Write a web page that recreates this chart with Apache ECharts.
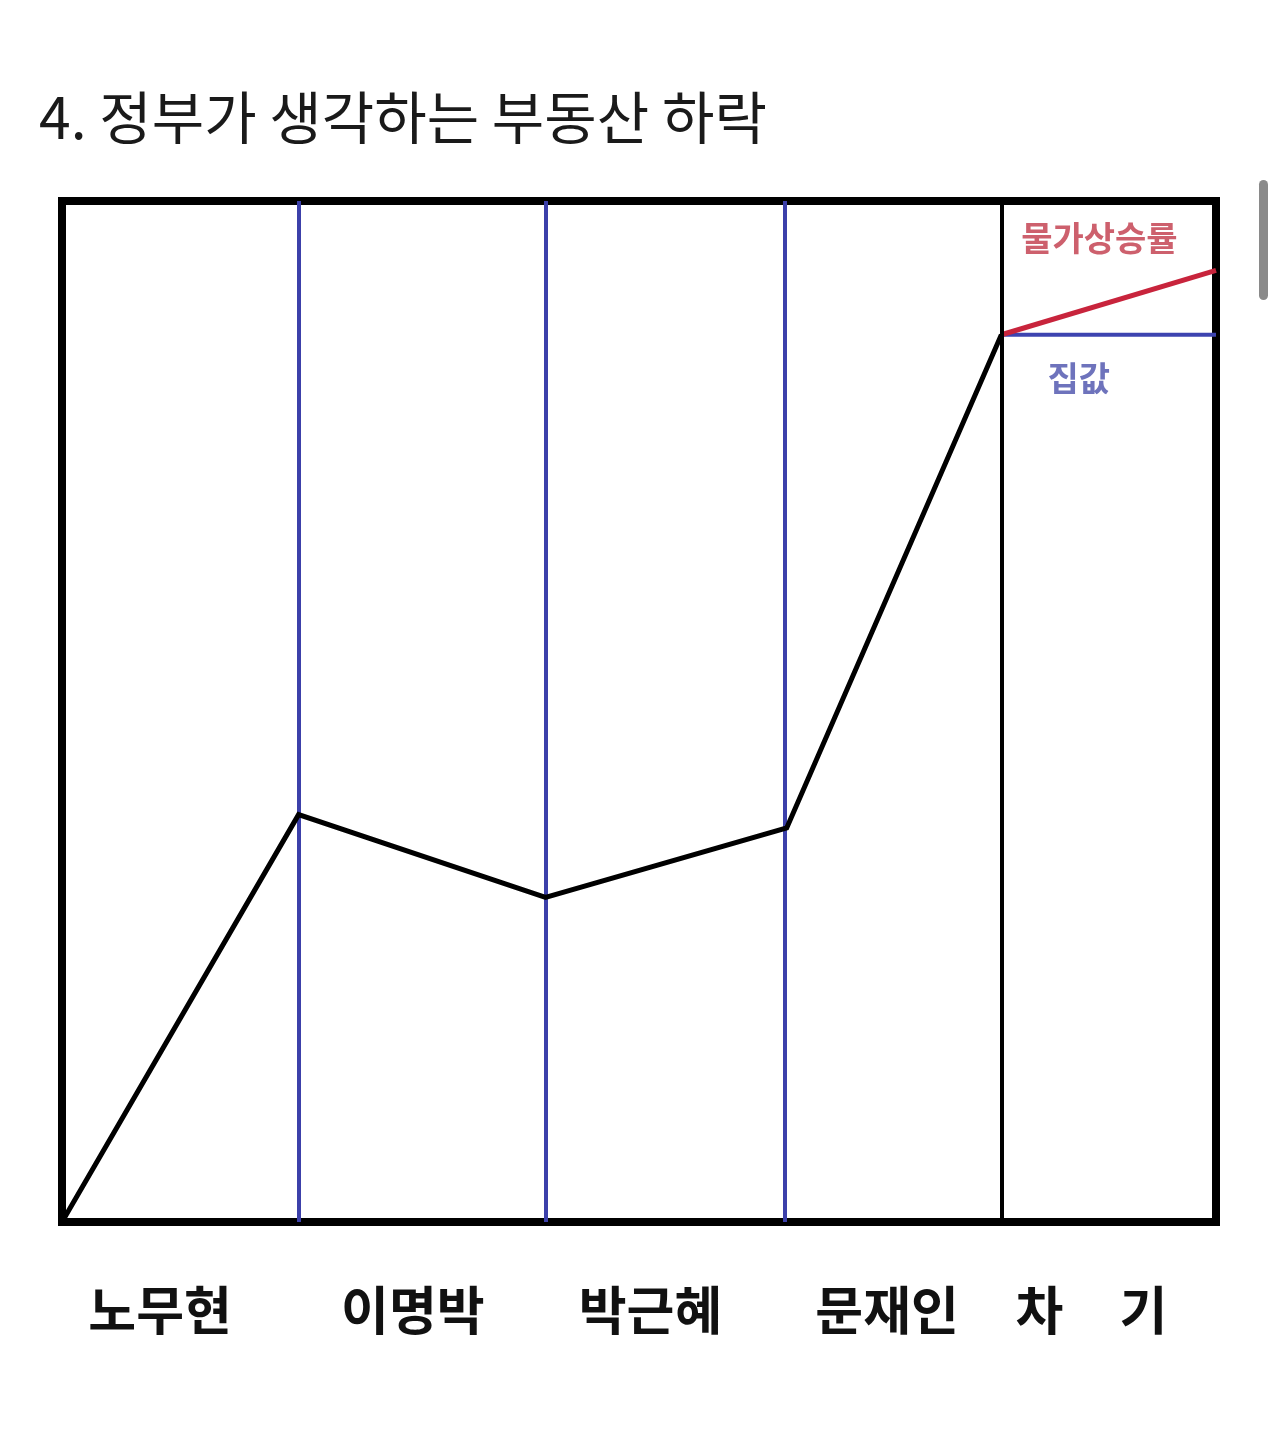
<!DOCTYPE html>
<html>
<head>
<meta charset="utf-8">
<script src="https://cdn.jsdelivr.net/npm/echarts@6/dist/echarts.min.js"></script>
<style>
html,body{margin:0;padding:0;background:#fff;}
#c{width:1280px;height:1440px;}
</style>
</head>
<body>
<div id="c"></div>
<script>
// Data (x: position along the time axis 0-100, y: house price level 0-100)
const titleText = '4. 정부가 생각하는 부동산 하락';
const periodNames = ['노무현', '이명박', '박근혜', '문재인', '차', '기'];
const periodLabelX = [8.5, 30.4, 51.0, 71.5, 84.7, 93.7];
const adminBoundaryX = [20.5, 41.9, 62.6];
const nextBoundaryX = [81.4];
const housePriceX = [0, 20.5, 41.9, 62.8, 81.4];
const housePriceY = [0, 39.9, 31.8, 38.6, 86.9];
const inflationX = [81.4, 100];
const inflationY = [86.9, 93.2];
const futurePriceX = [81.4, 100];
const futurePriceY = [86.9, 86.9];
const annotationNames = ['물가상승률', '집값'];
const annotationX = [89.9, 88.1];
const annotationY = [96.4, 82.7];

const zip = (xs, ys) => xs.map((x, i) => [x, ys[i]]);
const FONT = '"Noto Sans CJK KR", "Noto Sans", sans-serif';
const annotationColors = ['#c03848', '#4a50ab'];

const chart = echarts.init(document.getElementById('c'));
chart.setOption({
  animation: false,
  backgroundColor: '#ffffff',
  title: {
    text: titleText,
    left: 34,
    top: 84,
    textStyle: { fontFamily: FONT, fontSize: 57, fontWeight: 'normal', color: '#1a1a1a' }
  },
  grid: {
    left: 62, right: 64, top: 201, height: 1021,
    show: true, borderColor: '#000', borderWidth: 8, backgroundColor: 'transparent'
  },
  xAxis: {
    type: 'value', min: 0, max: 100,
    axisLine: { show: false }, axisTick: { show: false }, splitLine: { show: false },
    axisLabel: {
      customValues: periodLabelX,
      formatter: (v) => {
        const i = periodLabelX.findIndex(p => Math.abs(p - v) < 1e-6);
        return i >= 0 ? periodNames[i] : '';
      },
      margin: 62,
      fontFamily: FONT, fontSize: 52, fontWeight: 'bold', color: '#111'
    }
  },
  yAxis: {
    type: 'value', min: 0, max: 100,
    show: false, splitLine: { show: false }
  },
  series: [
    {
      type: 'line', data: [], silent: true,
      markLine: {
        symbol: 'none', silent: true, label: { show: false },
        lineStyle: { color: '#3c40aa', width: 4, type: 'solid' },
        data: adminBoundaryX.map(x => ({ xAxis: x }))
      }
    },
    {
      type: 'line', data: [], silent: true,
      markLine: {
        symbol: 'none', silent: true, label: { show: false },
        lineStyle: { color: '#000', width: 4, type: 'solid' },
        data: nextBoundaryX.map(x => ({ xAxis: x }))
      }
    },
    {
      name: '집값(미래)', type: 'line', data: zip(futurePriceX, futurePriceY),
      symbol: 'none', lineStyle: { color: '#3d44b0', width: 4 }, z: 3
    },
    {
      name: '물가상승률', type: 'line', data: zip(inflationX, inflationY),
      symbol: 'none', lineStyle: { color: '#c8243c', width: 5 }, z: 4
    },
    {
      name: '집값', type: 'line', data: zip(housePriceX, housePriceY),
      symbol: 'none', lineStyle: { color: '#000', width: 5, join: 'miter' }, z: 5
    },
    {
      type: 'scatter', symbolSize: 0, silent: true,
      data: annotationNames.map((n, i) => ({
        value: [annotationX[i], annotationY[i]], name: n,
        label: { color: annotationColors[i] }
      })),
      label: {
        show: true, position: 'inside',
        formatter: p => p.name,
        fontFamily: FONT, fontSize: 34, fontWeight: 'bold'
      },
      itemStyle: { color: 'transparent' }
    }
  ],
  graphic: [
    { type: 'rect', shape: { x: 1259, y: 180, width: 9, height: 120, r: 4.5 }, style: { fill: '#8a8a8a' } }
  ]
});
</script>
</body>
</html>
